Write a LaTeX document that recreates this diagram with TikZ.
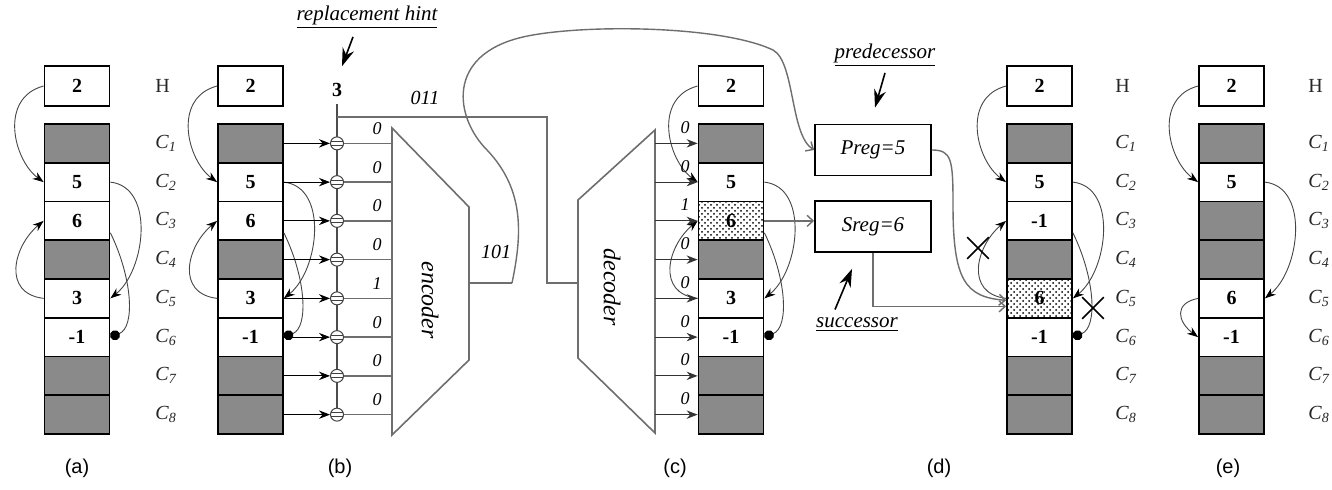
\documentclass[tikz,border=0pt]{standalone}
\usepackage{fontspec}
\setmainfont{Liberation Serif}
\setsansfont{Liberation Sans}
\usetikzlibrary{arrows.meta,patterns,shapes.misc}
\definecolor{cellgray}{RGB}{138,138,138}
\definecolor{wiregray}{RGB}{110,110,110}
\definecolor{linkgray}{RGB}{70,70,70}
\newcommand{\clab}[1]{\textit{C}\textsubscript{\textit{#1}}}
\newcommand{\fsz}[1]{\fontsize{#1}{#1}\selectfont}

\tikzset{
  cell/.style={draw, line width=0.9pt, minimum width=32.5pt, minimum height=19.375pt,
    inner sep=0pt, font=\fsz{10}\bfseries},
  gcell/.style={cell, fill=cellgray},
  wcell/.style={cell, fill=white},
  dcell/.style={cell, pattern=crosshatch dots},
  headbox/.style={cell, fill=white, minimum height=20pt},
  rowlab/.style={anchor=west, inner sep=0pt, text=black!85, font=\fsz{10}},
  bitlab/.style={inner sep=0pt, font=\fsz{9}\itshape},
  link/.style={linkgray, line width=0.45pt, -{Stealth[length=5.5pt,width=4pt,black]}},
  nilink/.style={linkgray, line width=0.45pt, -{Circle[length=5pt,black]}},
  tip/.style={black, line width=0.5pt, -{Stealth[length=5.5pt,width=4.2pt]}},
  wire/.style={wiregray, line width=0.8pt},
  gline/.style={wiregray, line width=0.7pt, -{Straight Barb[length=3pt,width=5.5pt]}},
  dart/.style={line width=0.8pt, -{Stealth[length=9pt,width=6pt,inset=3pt]}},
  cmpr/.style={circle, draw=black!75, fill=white, line width=0.5pt, minimum size=6.5pt, inner sep=0pt,
    path picture={\draw[line width=0.4pt]
      ([yshift=1pt]path picture bounding box.west) -- ([yshift=1pt]path picture bounding box.east)
      ([yshift=-1pt]path picture bounding box.west) -- ([yshift=-1pt]path picture bounding box.east);}},
  regbox/.style={draw, line width=0.9pt, minimum width=58pt, minimum height=25.5pt, font=\fsz{10.5}\itshape},
  note/.style={font=\fsz{10.5}\itshape, inner sep=1pt},
  xmark/.style={cross out, draw, line width=0.8pt, minimum size=10pt, inner sep=0pt},
}

\begin{document}
\begin{tikzpicture}[x=0.5pt, y=-0.5pt]
  \fill[white] (0,0) rectangle (1332,490);
  \useasboundingbox (0,0) rectangle (1332,490);

  % head registers
  \foreach \cl/\cx in {a/77, b/250.5, c/731, d/1039.5, e/1231.5}
    \node[headbox] (\cl H) at (\cx,86) {2};

  % cell columns
  \foreach \i/\s/\v in {1/gcell/{},2/wcell/5,3/wcell/6,4/gcell/{},5/wcell/3,6/wcell/-1,7/gcell/{},8/gcell/{}}{
    \node[\s] (a\i) at (77,{124+(\i-0.5)*38.75}) {\v};
    \node[\s] (b\i) at (250.5,{124+(\i-0.5)*38.75}) {\v};
  }
  \foreach \i/\s/\v in {1/gcell/{},2/wcell/5,3/dcell/6,4/gcell/{},5/wcell/3,6/wcell/-1,7/gcell/{},8/gcell/{}}
    \node[\s] (c\i) at (731,{124+(\i-0.5)*38.75}) {\v};
  \foreach \i/\s/\v in {1/gcell/{},2/wcell/5,3/wcell/-1,4/gcell/{},5/dcell/6,6/wcell/-1,7/gcell/{},8/gcell/{}}
    \node[\s] (d\i) at (1039.5,{124+(\i-0.5)*38.75}) {\v};
  \foreach \i/\s/\v in {1/gcell/{},2/wcell/5,3/gcell/{},4/gcell/{},5/wcell/6,6/wcell/-1,7/gcell/{},8/gcell/{}}
    \node[\s] (e\i) at (1231.5,{124+(\i-0.5)*38.75}) {\v};

  % row labels
  \foreach \cl/\lx in {a/155, d/1115, e/1308}{
    \node[rowlab] (\cl lH) at (\lx,86) {H};
    \foreach \i in {1,...,8}
      \node[rowlab] (\cl l\i) at (\lx,{124+(\i-0.5)*38.75}) {\clab{\i}};
  }

  % list links
  \foreach \cl in {a,b,c,d,e}{
    \draw[link] (\cl H.west) .. controls +(-45,12) and +(-30,-22) .. (\cl2.west);
    \draw[link] (\cl2.east) .. controls +(45,5) and +(35,-28) .. (\cl5.east);
  }
  \foreach \cl in {a,b,c,d}{
    \draw[nilink] ([yshift=-6pt]\cl3.east) .. controls +(22,45) and +(25,-10) .. (\cl6.east);
    \draw[link] (\cl5.west) .. controls +(-42,-5) and +(-30,25) .. (\cl3.west);
  }
  \draw[link] (e5.west) .. controls +(-25,5) and +(-20,-15) .. (e6.west);

  % encoder and decoder blocks
  \draw[wire] (392,128) -- (469,207) -- (469,360) -- (392,435) -- cycle;
  \node[rotate=-90, font=\fsz{12}\itshape] (enc) at (430,300) {encoder};
  \coordinate (encL) at (392,283);
  \coordinate (encR) at (469,283);
  \draw[wire] (578,200) -- (655,130) -- (655,433) -- (578,358) -- cycle;
  \node[rotate=-90, font=\fsz{12}\itshape] (dec) at (612,287) {decoder};
  \coordinate (decL) at (578,283);
  \coordinate (decR) at (655,283);

  % comparators on the hint bus
  \node[font=\fsz{10}\bfseries] (hint) at (337,90) {3};
  \foreach \i in {1,...,8} \coordinate (k\i) at (337,{124+(\i-0.5)*38.75});
  \draw[wire, black!70] (hint.south) -- (k8);
  \foreach \i/\bit in {1/0,2/0,3/0,4/0,5/1,6/0,7/0,8/0}{
    \node[cmpr] (cmp\i) at (k\i) {};
    \draw[tip] (b\i.east) -- (cmp\i.west);
    \draw[wire] (cmp\i.east) -- (cmp\i.east -| encL);
    \node[bitlab] (eb\i) at (377,{124+(\i-0.5)*38.75-15}) {\bit};
  }

  % decoder outputs
  \foreach \i/\bit in {1/0,2/0,3/1,4/0,5/0,6/0,7/0,8/0}{
    \draw[tip, black!80] (c\i.west -| decR) -- (c\i.west);
    \node[bitlab] (db\i) at (685,{124+(\i-0.5)*38.75-16}) {\bit};
  }

  % registers
  \node[regbox] (preg) at (873,150) {Preg=5};
  \node[regbox] (sreg) at (873,226.5) {Sreg=6};

  % codes
  \coordinate (tap) at (337,117);
  \coordinate (bend) at (547,283);
  \draw[wire] (tap) -| (bend) -- (decL);
  \node[bitlab, font=\fsz{10}\itshape] (code1) at (425,98) {011};
  \coordinate (encend) at (512,283);
  \draw[wire] (encR) -- (encend);
  \node[bitlab, font=\fsz{10}\itshape] (code2) at (496,252) {101};
  \draw[gline] (encend) .. controls (522,235) and (525,190) .. (487,150)
    .. controls (455,118) and (445,55) .. (523,37)
    .. controls (580,24) and (720,25) .. (773,50)
    .. controls (795,62) and (790,135) .. (preg.west);
  \draw[gline] (c3.east) -- (c3.east -| sreg.west);

  % relinking in (d)
  \draw[gline] (preg.east) .. controls +(20,0) and (953,160) .. (953,205)
    .. controls (953,280) and (965,297) .. ([yshift=-1pt]d5.west);
  \draw[gline] (sreg.south) |- ([yshift=-4pt]d5.west);
  \node[xmark] (x1) at (978,248) {};
  \node[xmark] (x2) at (1093,308) {};

  % notes
  \node[note] (rhint) at (367,17) {\underline{replacement hint}};
  \draw[dart] ([xshift=-7pt,yshift=-3pt]rhint.south) -- ([xshift=2.5pt,yshift=5pt]hint.north);
  \node[note] (pred) at (885,55) {\underline{predecessor}};
  \draw[dart] ([yshift=-2pt]pred.south) -- ([xshift=1pt,yshift=8pt]preg.north);
  \node[note] (succ) at (857,325) {\underline{successor}};
  \draw[dart] ([xshift=-11pt,yshift=3pt]succ.north) -- ([xshift=-10.5pt,yshift=-8pt]sreg.south);

  % captions
  \foreach \cl/\lx in {a/77,b/340,c/675,d/939,e/1228}
    \node[font=\fsz{10}\sffamily] (cap\cl) at (\lx,468) {(\cl)};
\end{tikzpicture}
\end{document}
